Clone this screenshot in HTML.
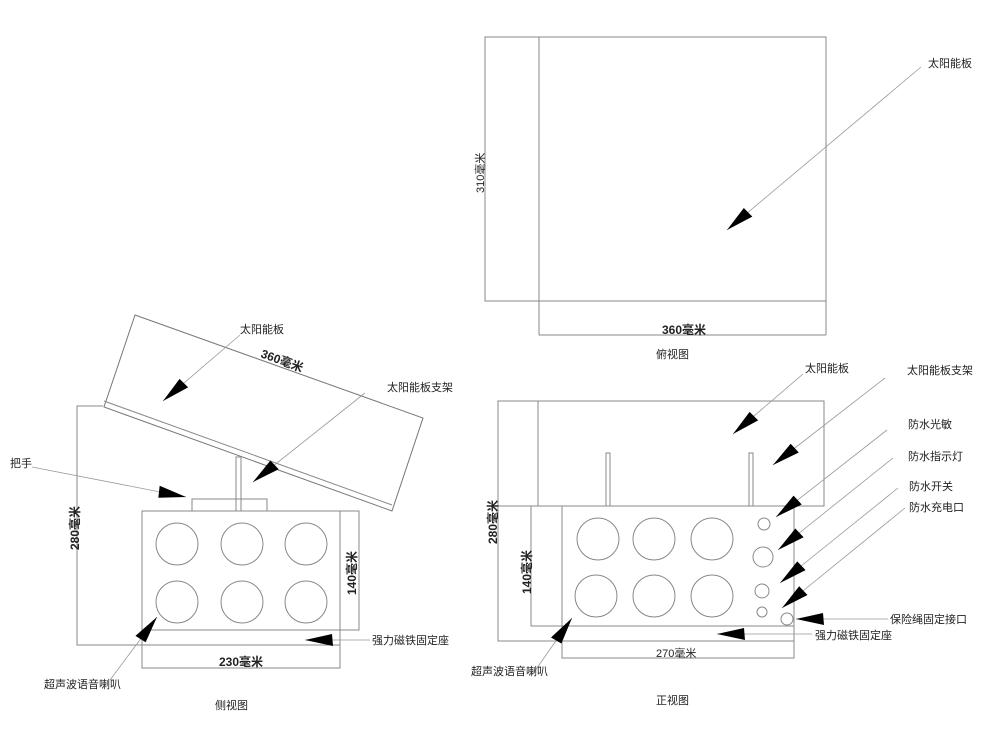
<!DOCTYPE html>
<html><head><meta charset="utf-8"><style>
html,body{margin:0;padding:0;background:#fff;}
svg{display:block;}
text{font-family:"Liberation Sans","Noto Sans CJK SC",sans-serif;font-size:11px;fill:#222;}
.b{font-weight:bold;font-size:12px;}
</style></head><body>
<svg width="987" height="749" viewBox="0 0 987 749">
<defs>
<marker id="a" markerUnits="userSpaceOnUse" markerWidth="40" markerHeight="20" refX="30" refY="8" orient="auto">
<path d="M30,8 L2,2 L3,14 Z" fill="#000"/>
</marker>
</defs>
<g fill="none" stroke="#888" stroke-width="1">
<!-- top view -->
<rect x="485" y="37" width="341" height="264"/>
<line x1="539" y1="37" x2="539" y2="335"/>
<line x1="539" y1="335" x2="826" y2="335"/>
<line x1="826" y1="301" x2="826" y2="335"/>
<!-- side view -->
<polygon points="135,315 423,418 392,511 104,407" stroke="#777"/>
<line x1="104" y1="401" x2="392" y2="505"/>
<polyline points="103,406 77,406 77,645 340,645"/>
<rect x="142" y="511" width="217" height="119"/>
<polyline points="142,630 142,668 340,668 340,511"/>
<rect x="192" y="499" width="75" height="12"/>
<rect x="236" y="457" width="5" height="54"/>
<circle cx="177" cy="544" r="21"/><circle cx="242" cy="544" r="21"/><circle cx="306" cy="544" r="21"/>
<circle cx="177" cy="602" r="21"/><circle cx="242" cy="602" r="21"/><circle cx="306" cy="602" r="21"/>
<!-- front view -->
<rect x="498" y="401" width="326" height="105"/>
<line x1="538" y1="401" x2="538" y2="506"/>
<polyline points="498,506 498,641 794,641"/>
<rect x="531" y="506" width="263" height="120"/>
<polyline points="562,506 562,658 794,658 794,626"/>
<rect x="606" y="453" width="4" height="53"/>
<rect x="749" y="453" width="4" height="53"/>
<circle cx="598" cy="539" r="21"/><circle cx="654" cy="539" r="21"/><circle cx="712" cy="539" r="21"/>
<circle cx="596" cy="596" r="21"/><circle cx="654" cy="596" r="21"/><circle cx="712" cy="596" r="21"/>
<circle cx="764" cy="524" r="6"/><circle cx="763" cy="557" r="10"/><circle cx="762" cy="591" r="7"/><circle cx="762" cy="612" r="5"/><circle cx="787" cy="619" r="6"/>
</g>
<g stroke="#999" stroke-width="0.8" marker-end="url(#a)">
<line x1="921" y1="67" x2="727" y2="230"/>
<line x1="240" y1="335" x2="163" y2="401"/>
<line x1="365" y1="393" x2="253" y2="482"/>
<line x1="32" y1="467" x2="186" y2="497"/>
<line x1="370" y1="640" x2="305" y2="640"/>
<line x1="110" y1="680" x2="157" y2="617"/>
<line x1="803" y1="374" x2="733" y2="434"/>
<line x1="885" y1="378" x2="773" y2="465"/>
<line x1="887" y1="430" x2="776" y2="517"/>
<line x1="893" y1="458" x2="778" y2="550"/>
<line x1="898" y1="488" x2="780" y2="583"/>
<line x1="905" y1="508" x2="782" y2="608"/>
<line x1="888" y1="619" x2="796" y2="619"/>
<line x1="812" y1="634" x2="717" y2="634"/>
<line x1="532" y1="675" x2="572" y2="618"/>
</g>
<!-- labels -->
<text x="928" y="67">太阳能板</text>
<text class="b" x="662" y="334">360毫米</text>
<text transform="translate(484,193) rotate(-90)">310毫米</text>
<text x="656" y="358">俯视图</text>

<text x="240" y="333">太阳能板</text>
<text class="b" transform="translate(260,357) rotate(20)">360毫米</text>
<text x="387" y="391">太阳能板支架</text>
<text x="10" y="467">把手</text>
<text class="b" transform="translate(79,550) rotate(-90)">280毫米</text>
<text class="b" transform="translate(356,595) rotate(-90)">140毫米</text>
<text x="372" y="644">强力磁铁固定座</text>
<text class="b" x="219" y="666">230毫米</text>
<text x="44" y="688">超声波语音喇叭</text>
<text x="215" y="709">侧视图</text>

<text x="805" y="372">太阳能板</text>
<text x="907" y="374">太阳能板支架</text>
<text x="908" y="428">防水光敏</text>
<text x="908" y="460">防水指示灯</text>
<text x="909" y="490">防水开关</text>
<text x="909" y="511">防水充电口</text>
<text x="890" y="623">保险绳固定接口</text>
<text x="815" y="639">强力磁铁固定座</text>
<text x="656" y="657">270毫米</text>
<text x="471" y="675">超声波语音喇叭</text>
<text class="b" transform="translate(497,544) rotate(-90)">280毫米</text>
<text class="b" transform="translate(531,594) rotate(-90)">140毫米</text>
<text x="656" y="704">正视图</text>
</svg>
</body></html>
